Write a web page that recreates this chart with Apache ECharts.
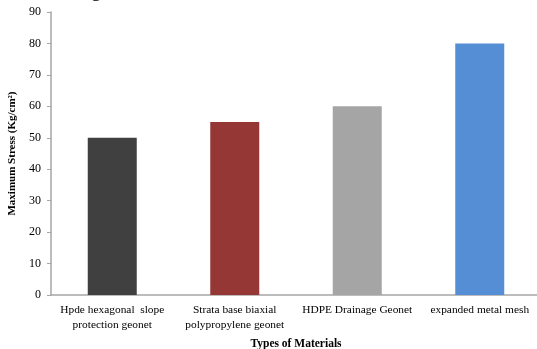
<!DOCTYPE html>
<html>
<head>
<meta charset="utf-8">
<script src="https://cdn.jsdelivr.net/npm/echarts@6/dist/echarts.min.js"></script>
<style>
  html, body { margin: 0; padding: 0; background: #fff; }
  #chart { width: 537px; height: 349px; }
</style>
</head>
<body>
<div id="chart"></div>
<script>
// Material types and their maximum stress (Kg/cm²)
const categories = [
  'Hpde hexagonal  slope\nprotection geonet',
  'Strata base biaxial\npolypropylene geonet',
  'HDPE Drainage Geonet',
  'expanded metal mesh'
];
const maxStress = [50, 55, 60, 80];
const barColors = ['#404040', '#953735', '#a5a5a5', '#558ed5'];

const serif = '"Liberation Serif", "Times New Roman", serif';
const axisGray = '#a6a6a6';

const chart = echarts.init(document.getElementById('chart'), null, { renderer: 'canvas' });

chart.setOption({
  animation: false,
  backgroundColor: '#ffffff',
  graphic: [{
    type: 'text',
    left: 91,
    top: -19,
    style: { text: 'g', font: '20px ' + serif, fill: '#000' }
  }],
  grid: { left: 51, top: 12, width: 490, height: 283, containLabel: false, outerBoundsMode: 'none' },
  xAxis: {
    type: 'category',
    data: categories,
    name: 'Types of Materials',
    nameLocation: 'middle',
    nameGap: 41,
    nameTextStyle: { fontFamily: serif, fontWeight: 'bold', fontSize: 11.5, color: '#000' },
    axisLine: { lineStyle: { color: axisGray, width: 1.5 } },
    axisTick: { show: false },
    axisLabel: { fontFamily: serif, fontSize: 11.4, color: '#000', lineHeight: 15, margin: 8, interval: 0 }
  },
  yAxis: {
    type: 'value',
    min: 0, max: 90, interval: 10,
    name: 'Maximum Stress (Kg/cm²)',
    nameLocation: 'middle',
    nameGap: 28,
    nameTextStyle: { fontFamily: serif, fontWeight: 'bold', fontSize: 11, color: '#000' },
    axisLine: { show: true, lineStyle: { color: axisGray, width: 1.5 } },
    axisTick: { show: true, length: 4, lineStyle: { color: axisGray } },
    splitLine: { show: false },
    axisLabel: { fontFamily: serif, fontSize: 12, color: '#000', margin: 10 }
  },
  series: [{
    type: 'bar',
    data: maxStress.map((v, i) => ({ value: v, itemStyle: { color: barColors[i] } })),
    barWidth: 49
  }]
});
</script>
</body>
</html>
